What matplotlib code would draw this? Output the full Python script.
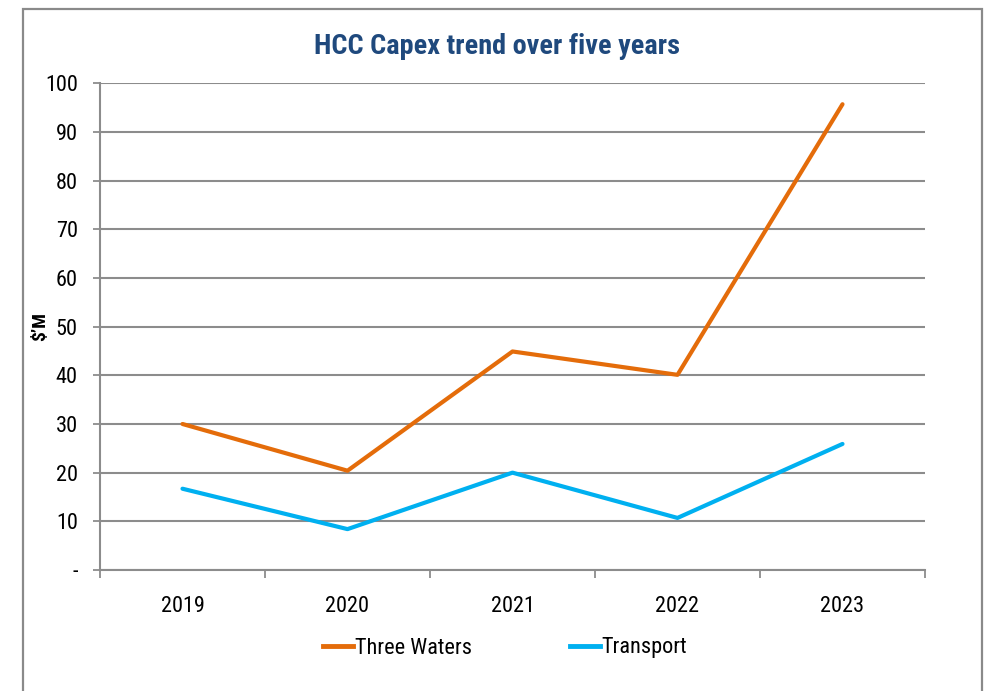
import matplotlib
matplotlib.use("Agg")
import matplotlib.pyplot as plt
from matplotlib.patches import Rectangle
from matplotlib.lines import Line2D
from matplotlib import font_manager

years = ["2019", "2020", "2021", "2022", "2023"]
three_waters = [30.0, 20.4, 44.9, 40.1, 95.7]
transport = [16.7, 8.4, 20.0, 10.7, 25.9]
ytick_vals = [0, 10, 20, 30, 40, 50, 60, 70, 80, 90, 100]
ytick_labels = ["-", "10", "20", "30", "40", "50", "60", "70", "80", "90", "100"]

installed = {f.name for f in font_manager.fontManager.ttflist}
pick = None
for cand in ["Liberation Sans Narrow", "DejaVu Sans Condensed", "Roboto Condensed",
             "Open Sans Condensed", "Lato", "Open Sans"]:
    if cand in installed:
        pick = cand
        break
FONT = [pick, "DejaVu Sans"] if pick else ["DejaVu Sans"]
plt.rcParams['font.family'] = FONT

W, H = 987, 691
fig = plt.figure(figsize=(W / 100, H / 100), dpi=100)
fig.patch.set_facecolor("white")

# outer border
fig.patches.append(Rectangle((23 / W, -0.05), (982 - 23) / W, 1.05 - 9 / H,
                             transform=fig.transFigure, fill=False,
                             edgecolor="#8a8a8a", linewidth=1.6))

ax_l, ax_r, ax_t, ax_b = 100, 925, 83.3, 570
ax = fig.add_axes([ax_l / W, (H - ax_b) / H, (ax_r - ax_l) / W, (ax_b - ax_t) / H])

x = list(range(len(years)))
orange = "#E46C0A"
blue = "#00B0F0"
ax.plot(x, three_waters, color=orange, linewidth=3.0, solid_capstyle="round", zorder=3)
ax.plot(x, transport, color=blue, linewidth=3.0, solid_capstyle="round", zorder=3)

ax.set_xlim(-0.5, len(years) - 0.5)
ax.set_ylim(0, 100)

fs = 16 if pick in ("Liberation Sans Narrow", "DejaVu Sans Condensed", "Roboto Condensed", "Open Sans Condensed") else 15

ax.set_yticks(ytick_vals)
ax.set_yticklabels(ytick_labels, fontsize=fs)
ax.yaxis.grid(True, color="#8c8c8c", linewidth=1.5)
ax.set_axisbelow(True)

ax.set_xticks(x)
ax.set_xticklabels(years, fontsize=fs)
ax.set_xticks([i - 0.5 for i in range(len(years) + 1)], minor=True)
ax.tick_params(axis="x", which="major", length=0, pad=19)
ax.tick_params(axis="x", which="minor", length=6, width=1.3, color="#8c8c8c", direction="out")
ax.tick_params(axis="y", length=5, width=1.3, color="#8c8c8c", direction="out", pad=11)

for s in ["top", "right"]:
    ax.spines[s].set_visible(False)
for s in ["left", "bottom"]:
    ax.spines[s].set_color("#8c8c8c")
    ax.spines[s].set_linewidth(1.5)

ax.set_ylabel("$\u2019M", fontsize=14, fontweight="bold")
ax.yaxis.set_label_coords(-0.062, 0.5)

fig.text(0.5035, (H - 47) / H, "HCC Capex trend over five years", ha="center", va="center",
         fontsize=20.3, fontweight="bold", color="#1F497D")

handles = [Line2D([], [], color=orange, linewidth=3.5), Line2D([], [], color=blue, linewidth=3.5)]
fig.legend(handles, ["Three Waters", "Transport"], loc="center", bbox_to_anchor=(505 / W, (H - 648) / H),
           ncol=2, frameon=False, fontsize=fs, handlelength=1.35, handletextpad=0.1, columnspacing=4.4)

fig.savefig("out.png", dpi=100)
